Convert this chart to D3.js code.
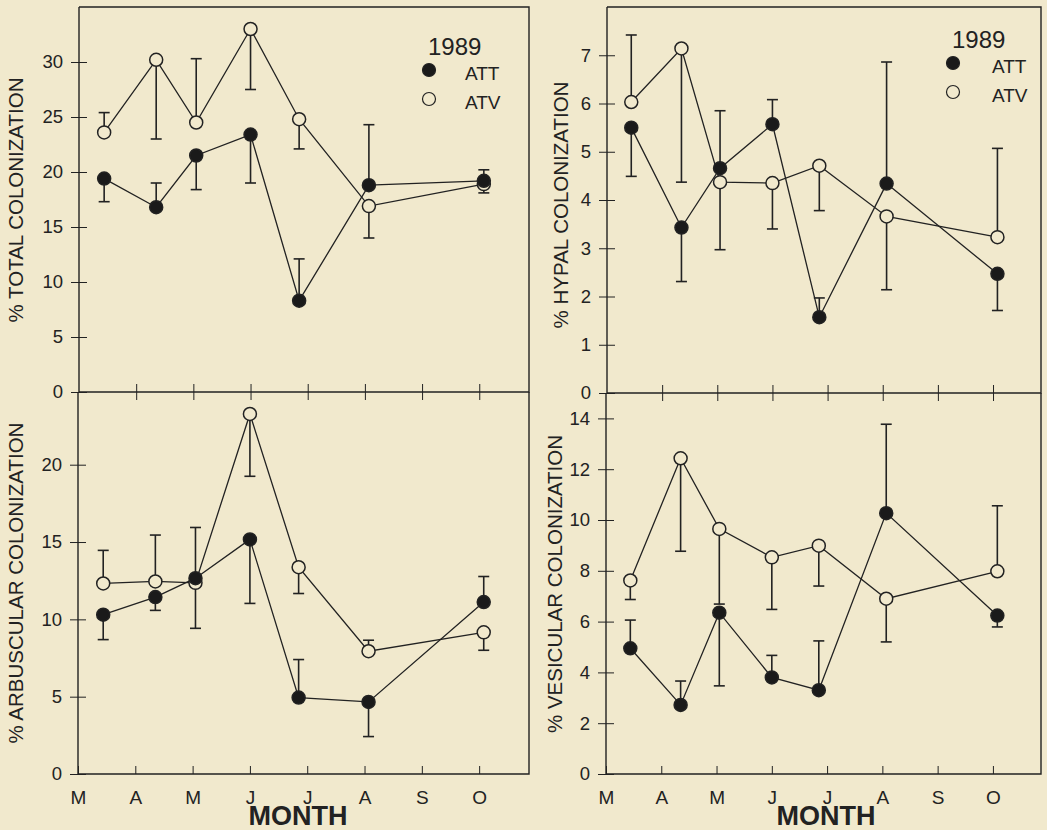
<!DOCTYPE html>
<html>
<head>
<meta charset="utf-8">
<script src="https://cdn.jsdelivr.net/npm/d3@7"></script>
<style>
  body { margin: 0; background: #f1e9cd; }
  svg { display: block; font-family: "Liberation Sans", Arial, sans-serif; }
</style>
</head>
<body>
<svg id="chart" width="1047" height="830"></svg>
<script>
// month axis (M = March ... O = October) and sampling dates as month offsets
const monthLabels = ["M", "A", "M", "J", "J", "A", "S", "O"];
const sampleMonth = [0.44, 1.35, 2.05, 3.0, 3.85, 5.07, 7.08];

// % total colonization
const totalATT = [19.4, 16.8, 21.5, 23.4, 8.3, 18.8, 19.2];
const totalATTbar = [17.3, 19.0, 18.4, 19.0, 12.1, 24.3, 20.2];
const totalATV = [23.6, 30.2, 24.5, 33.0, 24.8, 16.9, 18.9];
const totalATVbar = [25.4, 23.0, 30.3, 27.5, 22.1, 14.0, 18.1];

// % hypal colonization
const hypalATT = [5.50, 3.43, 4.66, 5.57, 1.57, 4.34, 2.47];
const hypalATTbar = [4.49, 2.31, 5.85, 6.08, 1.97, 6.86, 1.71];
const hypalATV = [6.03, 7.14, 4.37, 4.35, 4.71, 3.66, 3.23];
const hypalATVbar = [7.42, 4.37, 2.97, 3.40, 3.78, 2.14, 5.07];

// % arbuscular colonization
const arbusATT = [10.3, 11.44, 12.66, 15.17, 4.94, 4.66, 11.12];
const arbusATTbar = [8.69, 10.58, 15.94, 11.03, 7.40, 2.42, 12.77];
const arbusATV = [12.32, 12.45, 12.36, 23.28, 13.37, 7.94, 9.16];
const arbusATVbar = [14.46, 15.45, 9.42, 19.25, 11.67, 8.65, 8.0];

// % vesicular colonization
const vesicATT = [4.95, 2.72, 6.35, 3.80, 3.30, 10.27, 6.24];
const vesicATTbar = [6.06, 3.66, 3.47, 4.67, 5.24, 13.77, 5.79];
const vesicATV = [7.62, 12.43, 9.65, 8.53, 8.99, 6.90, 7.98];
const vesicATVbar = [6.87, 8.77, 6.69, 6.48, 7.40, 5.20, 10.56];

const ink = "#222";
const bg = "#f1e9cd";
const svg = d3.select("#chart");

function panel(opt) {
  const { x0, x1, y0, y1 } = opt.box;
  const x = d3.scaleLinear().domain([0, 7.87]).range([x0, x1]);
  const y = d3.scaleLinear().domain([0, opt.yMax]).range([y1, y0]);
  const g = svg.append("g");

  // frame: left, bottom, right, top
  g.append("path")
    .attr("d", `M${x0},${y0}V${y1}H${x1}V${y0}${opt.top ? "H" + x0 : ""}`)
    .attr("fill", "none").attr("stroke", ink).attr("stroke-width", 1.4);

  // y axis, ticks crossing the line
  const ya = g.append("g").attr("transform", `translate(${x0},0)`)
    .call(d3.axisLeft(y).tickValues(opt.yTicks).tickSize(8).tickPadding(8));
  ya.select(".domain").remove();
  ya.selectAll("line").attr("x1", -8).attr("x2", 8).attr("stroke", ink);
  ya.selectAll("text").attr("font-size", 18.5).attr("fill", ink);

  // x axis
  const xa = g.append("g").attr("transform", `translate(0,${y1})`);
  if (opt.top) {
    xa.call(d3.axisBottom(x).tickValues(d3.range(1, 8)).tickFormat("").tickSize(8));
    xa.selectAll("line").attr("y1", -8).attr("y2", 8).attr("stroke", ink);
  } else {
    xa.call(d3.axisBottom(x).tickValues(d3.range(0, 8))
      .tickFormat(i => monthLabels[i]).tickSize(8).tickPadding(9));
    xa.selectAll("line").attr("y1", -8).attr("y2", 0).attr("stroke", ink);
    xa.selectAll("text").attr("font-size", 19).attr("fill", ink);
    g.append("text").attr("x", opt.monthX).attr("y", 825)
      .attr("text-anchor", "middle").attr("font-size", 27).attr("font-weight", "bold")
      .attr("fill", ink).text("MONTH");
  }
  xa.select(".domain").remove();

  // y title
  g.append("text")
    .attr("transform", `translate(${opt.titleX},${opt.titleY}) rotate(-90)`)
    .attr("text-anchor", "middle").attr("font-size", 20.5).attr("fill", ink)
    .text(opt.title);

  const series = [
    { vals: opt.atv, bars: opt.atvBar, filled: false },
    { vals: opt.att, bars: opt.attBar, filled: true }
  ];
  const line = d3.line().x((d, i) => x(sampleMonth[i])).y(d => y(d));

  series.forEach(s => {
    g.append("path").attr("d", line(s.vals))
      .attr("fill", "none").attr("stroke", ink).attr("stroke-width", 1.3);
  });
  series.forEach(s => {
    s.vals.forEach((v, i) => {
      const cx = x(sampleMonth[i]);
      g.append("line").attr("x1", cx).attr("x2", cx)
        .attr("y1", y(v)).attr("y2", y(s.bars[i]))
        .attr("stroke", ink).attr("stroke-width", 1.6);
      g.append("line").attr("x1", cx - 5.5).attr("x2", cx + 5.5)
        .attr("y1", y(s.bars[i])).attr("y2", y(s.bars[i]))
        .attr("stroke", ink).attr("stroke-width", 1.6);
    });
  });
  series.forEach(s => {
    g.selectAll(null).data(s.vals).enter().append("circle")
      .attr("cx", (d, i) => x(sampleMonth[i])).attr("cy", d => y(d))
      .attr("r", 6.5)
      .attr("fill", s.filled ? "#1a1a1a" : bg)
      .attr("stroke", ink).attr("stroke-width", 1.5);
  });

  if (opt.legend) {
    const L = opt.legend;
    g.append("text").attr("x", L.x).attr("y", L.y).attr("font-size", 24)
      .attr("fill", ink).text("1989");
    [["ATT", true, 22, 25], ["ATV", false, 51, 54]].forEach(([name, filled, cy, ty]) => {
      g.append("circle").attr("cx", L.x + 1).attr("cy", L.y + cy - 7).attr("r", 6.5)
        .attr("fill", filled ? "#1a1a1a" : bg).attr("stroke", ink).attr("stroke-width", 1.2);
      g.append("text").attr("x", L.x + L.dx).attr("y", L.y + ty).attr("font-size", 19)
        .attr("fill", ink).text(name);
    });
  }
}

panel({
  box: { x0: 79, x1: 529, y0: 7, y1: 392 }, top: true, yMax: 35,
  yTicks: d3.range(0, 31, 5), title: "% TOTAL COLONIZATION", titleX: 23, titleY: 200,
  att: totalATT, attBar: totalATTbar, atv: totalATV, atvBar: totalATVbar,
  legend: { x: 428, y: 55, dx: 37 }
});
panel({
  box: { x0: 607, x1: 1041, y0: 7, y1: 393 }, top: true, yMax: 8,
  yTicks: d3.range(0, 8), title: "% HYPAL COLONIZATION", titleX: 568, titleY: 205,
  att: hypalATT, attBar: hypalATTbar, atv: hypalATV, atvBar: hypalATVbar,
  legend: { x: 952, y: 48, dx: 40 }
});
panel({
  box: { x0: 78, x1: 529, y0: 392, y1: 774 }, top: false, yMax: 24.7,
  yTicks: d3.range(0, 21, 5), title: "% ARBUSCULAR COLONIZATION", titleX: 23, titleY: 583,
  att: arbusATT, attBar: arbusATTbar, atv: arbusATV, atvBar: arbusATVbar,
  monthX: 298
});
panel({
  box: { x0: 606, x1: 1041, y0: 393, y1: 774 }, top: false, yMax: 15,
  yTicks: d3.range(0, 15, 2), title: "% VESICULAR COLONIZATION", titleX: 562, titleY: 584,
  att: vesicATT, attBar: vesicATTbar, atv: vesicATV, atvBar: vesicATVbar,
  monthX: 826
});
</script>
</body>
</html>
